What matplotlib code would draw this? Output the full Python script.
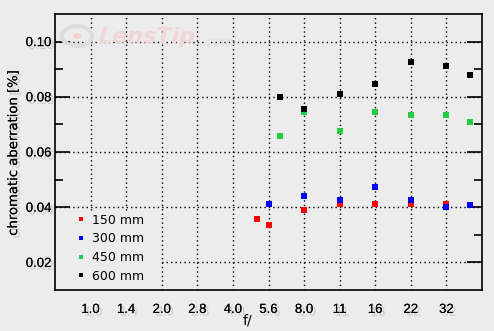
import numpy as np
import matplotlib
matplotlib.use("Agg")
import matplotlib.pyplot as plt
from matplotlib.patches import Rectangle, Circle
from matplotlib.lines import Line2D
import matplotlib.patheffects as pe

# ---- data ----
stop_labels = ['1.0', '1.4', '2.0', '2.8', '4.0', '5.6', '8.0', '11', '16', '22', '32']

f_150 = [5.0, 5.6, 8, 11, 16, 22, 32]
ca_150 = [0.0356, 0.0335, 0.0389, 0.0411, 0.0411, 0.0411, 0.0413]

f_300 = [5.6, 8, 11, 16, 22, 32, 40]
ca_300 = [0.0411, 0.0440, 0.0426, 0.0473, 0.0425, 0.0400, 0.0407]

f_450 = [6.3, 8, 11, 16, 22, 32, 40]
ca_450 = [0.0658, 0.0745, 0.0676, 0.0745, 0.0735, 0.0735, 0.0709]

f_600 = [6.3, 8, 11, 16, 22, 32, 40]
ca_600 = [0.0800, 0.0756, 0.0811, 0.0847, 0.0927, 0.0913, 0.0880]

series_labels = ['150 mm', '300 mm', '450 mm', '600 mm']
series_colors = ['#ff0000', '#0000ff', '#22cc44', '#000000']


def stop_pos(f):
    # position in third-stop steps relative to f/1.0
    return np.round(6 * np.log2(np.asarray(f, dtype=float))) / 3.0


BG = '#ececec'
fig = plt.figure(figsize=(4.94, 3.31), dpi=100, facecolor=BG)
ax = fig.add_axes([55 / 494, 41 / 331, 427 / 494, 276 / 331], facecolor=BG)

ax.set_xlim(-1, 11)
ax.set_ylim(0.01, 0.11)

# grid
dot = (0, (1, 2.2))
for i in range(len(stop_labels)):
    ax.axvline(i, color='black', lw=1.0, ls=dot, zorder=1)
for yv in [0.02, 0.04, 0.06, 0.08, 0.10]:
    ax.axhline(yv, color='black', lw=1.0, ls=dot, zorder=1)

# legend backing (covers grid)
ax.add_patch(Rectangle((-1, 0.01), 2.95, 0.0288, facecolor=BG, edgecolor='none', zorder=2))

data = [(f_150, ca_150), (f_300, ca_300), (f_450, ca_450), (f_600, ca_600)]
for (f, v), c in zip(data, series_colors):
    ax.plot(stop_pos(f), v, ls='none', marker='s', ms=4.4, mfc=c, mec=c, mew=0, zorder=4)

# ticks
ax.set_xticks(range(len(stop_labels)))
ax.set_xticklabels(stop_labels)
ax.set_yticks([0.02, 0.04, 0.06, 0.08, 0.10])
ax.set_yticklabels(['0.02', '0.04', '0.06', '0.08', '0.10'])
ax.set_yticks([0.03, 0.05, 0.07, 0.09], minor=True)
ax.set_xticks([], minor=True)
ax.tick_params(axis='y', which='major', direction='in', length=10.8, width=1.2,
               left=True, right=True, pad=2.5, labelsize=9.5)
ax.tick_params(axis='y', which='minor', direction='in', length=5.8, width=1.2,
               left=True, right=True)
ax.tick_params(axis='x', which='major', length=0, pad=10, labelsize=9.5)

shadow = [pe.withSimplePatchShadow(offset=(2, -2), shadow_rgbFace='#aaaaaa', alpha=0.5), pe.Normal()]
for lab in ax.get_xticklabels() + ax.get_yticklabels():
    lab.set_fontfamily('Liberation Sans')
    lab.set_path_effects(shadow)

for s in ax.spines.values():
    s.set_linewidth(1.2)
    s.set_color('black')

ax.set_ylabel('chromatic aberration [%]', fontsize=9.5, labelpad=4)
ax.yaxis.label.set_path_effects(shadow)
fig.text(243 / 494, 1 - 321 / 331, 'f/', fontsize=10, ha='left', va='center')

# legend
handles = [Line2D([], [], ls='none', marker='s', ms=3.2, mfc=c, mec=c, mew=0) for c in series_colors]
leg = ax.legend(handles, series_labels, loc='lower left', bbox_to_anchor=(0.035, 0.0),
                frameon=False, fontsize=9, handlelength=0.6, handletextpad=0.6,
                labelspacing=0.45, borderaxespad=0.2)
leg.set_zorder(5)

# watermark
fig.patches.append(Circle((77 / 494, 1 - 36 / 331), 15 / 494, transform=fig.transFigure,
                          facecolor='none', edgecolor='#dddddd', lw=3, zorder=0))
fig.patches.append(Circle((77 / 494, 1 - 36 / 331), 4 / 494, transform=fig.transFigure,
                          facecolor='#f0d0d0', edgecolor='none', zorder=0))
fig.text(99 / 494, 1 - 37 / 331, 'LensTip', fontsize=16, fontstyle='italic', fontweight='bold',
         color='#f0d6d6', ha='left', va='center', zorder=0)
fig.text(201 / 494, 1 - 42 / 331, '.com', fontsize=8.5, fontstyle='italic', fontweight='bold',
         color='#e3e3e3', ha='left', va='center', zorder=0)

fig.savefig('out.png', dpi=100, facecolor=BG)
